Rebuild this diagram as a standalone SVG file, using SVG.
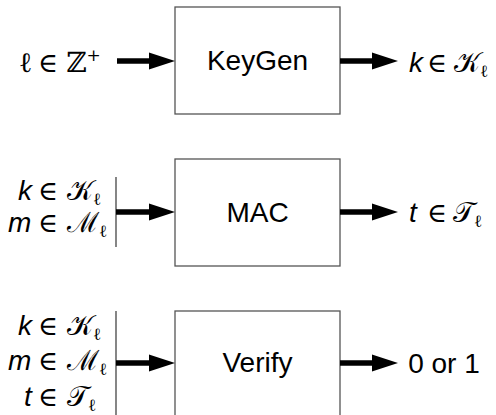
<svg xmlns="http://www.w3.org/2000/svg" width="496" height="415" viewBox="0 0 496 415">
<style>
.box{fill:#fff;stroke:#555;stroke-width:1.3}
.lbl{font-family:"Liberation Sans",Arial,sans-serif;font-size:28px;fill:#000;text-anchor:middle}
.m{font-family:"DejaVu Serif","Liberation Serif",serif;font-size:28px;fill:#000}
.v{font-family:"Liberation Sans",Arial,sans-serif;font-style:italic;font-size:28px}
.e{font-size:27px}
.s{font-size:17px}
.shaft{stroke:#000;stroke-width:5.5;fill:none}
.bar{stroke:#444;stroke-width:1.3;fill:none}
</style>
<defs>
<marker id="ah" markerUnits="userSpaceOnUse" markerWidth="26" markerHeight="17" refX="0" refY="8.5" orient="auto" overflow="visible">
<path d="M0,0 L26,8.5 L0,17 z" fill="#000"/>
</marker>
</defs>
<g id="keygen"><rect class="box" x="175" y="7" width="165" height="107"/><text class="lbl" x="257.5" y="70">KeyGen</text></g>
<g id="mac"><rect class="box" x="175" y="159" width="165" height="107"/><text class="lbl" x="257.5" y="222">MAC</text></g>
<g id="verify"><rect class="box" x="175" y="311" width="165" height="120"/><text class="lbl" x="257.5" y="372">Verify</text></g>
<g id="in-keygen"><text class="m" y="72"><tspan x="19">ℓ</tspan><tspan class="e" x="38">∈</tspan><tspan x="66">ℤ</tspan><tspan class="s" dy="-11">+</tspan></text></g>
<g id="out-keygen"><text class="m" y="72"><tspan class="v" x="409">k</tspan><tspan class="e" x="427">∈</tspan><tspan x="454">𝒦</tspan><tspan class="s" dy="5">ℓ</tspan></text></g>
<g id="in-mac">
<text class="m" y="200"><tspan class="v" x="18">k</tspan><tspan class="e" x="38">∈</tspan><tspan x="67">𝒦</tspan><tspan class="s" dy="5">ℓ</tspan></text>
<text class="m" y="232"><tspan class="v" x="8">m</tspan><tspan class="e" x="38">∈</tspan><tspan x="67">ℳ</tspan><tspan class="s" dy="5">ℓ</tspan></text>
</g>
<g id="out-mac"><text class="m" y="222"><tspan class="v" x="409">t</tspan><tspan class="e" x="427">∈</tspan><tspan x="453">𝒯</tspan><tspan class="s" dy="5">ℓ</tspan></text></g>
<g id="in-verify">
<text class="m" y="335"><tspan class="v" x="18">k</tspan><tspan class="e" x="38">∈</tspan><tspan x="67">𝒦</tspan><tspan class="s" dy="5">ℓ</tspan></text>
<text class="m" y="370"><tspan class="v" x="8">m</tspan><tspan class="e" x="38">∈</tspan><tspan x="67">ℳ</tspan><tspan class="s" dy="5">ℓ</tspan></text>
<text class="m" y="406"><tspan class="v" x="24">t</tspan><tspan class="e" x="38">∈</tspan><tspan x="67">𝒯</tspan><tspan class="s" dy="5">ℓ</tspan></text>
</g>
<g id="out-verify"><text class="lbl" x="444" y="373">0 or 1</text></g>
<g id="connectors">
<line class="shaft" x1="117" y1="61" x2="149" y2="61" marker-end="url(#ah)"/>
<line class="shaft" x1="340" y1="61" x2="372" y2="61" marker-end="url(#ah)"/>
<line class="bar" x1="116" y1="177" x2="116" y2="247"/>
<line class="shaft" x1="116" y1="212" x2="149" y2="212" marker-end="url(#ah)"/>
<line class="shaft" x1="340" y1="212" x2="372" y2="212" marker-end="url(#ah)"/>
<line class="bar" x1="116" y1="311" x2="116" y2="420"/>
<line class="shaft" x1="116" y1="363" x2="149" y2="363" marker-end="url(#ah)"/>
<line class="shaft" x1="340" y1="363" x2="372" y2="363" marker-end="url(#ah)"/>
</g>
</svg>
